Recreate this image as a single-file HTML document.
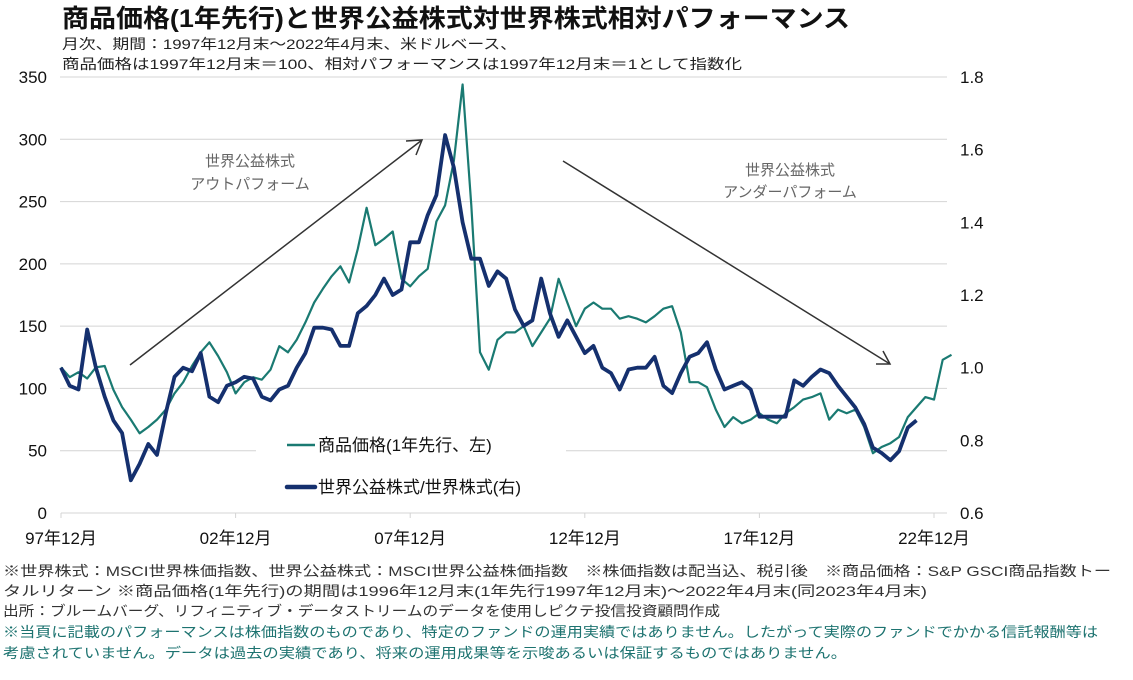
<!DOCTYPE html>
<html><head><meta charset="utf-8">
<style>
html,body{margin:0;padding:0;background:#fff;}
svg{display:block;font-family:"Liberation Sans","Noto Sans CJK JP",sans-serif;}
</style></head>
<body>
<svg id="chart" width="1133" height="680" viewBox="0 0 1133 680" xmlns="http://www.w3.org/2000/svg">
<text x="62" y="27" font-size="25" font-weight="bold" fill="#111" textLength="788" lengthAdjust="spacingAndGlyphs">商品価格(1年先行)と世界公益株式対世界株式相対パフォーマンス</text>
<text x="62" y="49" font-size="14" fill="#222" textLength="455" lengthAdjust="spacingAndGlyphs">月次、期間：1997年12月末～2022年4月末、米ドルベース、</text>
<text x="62" y="69" font-size="14" fill="#222" textLength="680" lengthAdjust="spacingAndGlyphs">商品価格は1997年12月末＝100、相対パフォーマンスは1997年12月末＝1として指数化</text>
<g id="grid"></g>
<g id="axes"></g>
<g id="annot">
<line x1="130" y1="365" x2="422" y2="140" stroke="#333" stroke-width="1.5"/>
<polyline points="406,141 422,140 416,155" fill="none" stroke="#333" stroke-width="1.5"/>
<line x1="563" y1="161" x2="890" y2="364" stroke="#333" stroke-width="1.5"/>
<polyline points="876,364 890,364 883,351" fill="none" stroke="#333" stroke-width="1.5"/>
<text x="250" y="166" font-size="15" fill="#666" text-anchor="middle">世界公益株式</text>
<text x="250" y="189" font-size="15" fill="#666" text-anchor="middle">アウトパフォーム</text>
<text x="790" y="175" font-size="15" fill="#666" text-anchor="middle">世界公益株式</text>
<text x="790" y="197" font-size="15" fill="#666" text-anchor="middle">アンダーパフォーム</text>
</g>
<g id="series"></g>
<g id="legend">
<rect x="256" y="425" width="310" height="80" fill="#fff"/>
<line x1="287" y1="445" x2="315" y2="445" stroke="#1a7a72" stroke-width="2.5"/>
<text x="318" y="451" font-size="17" fill="#111">商品価格(1年先行、左)</text>
<line x1="287" y1="487" x2="315" y2="487" stroke="#15306e" stroke-width="4.5" stroke-linecap="round"/>
<text x="318" y="493" font-size="17" fill="#111">世界公益株式/世界株式(右)</text>
</g>
<g font-size="14">
<text x="3" y="576" fill="#333" textLength="1108" lengthAdjust="spacingAndGlyphs">※世界株式：MSCI世界株価指数、世界公益株式：MSCI世界公益株価指数　※株価指数は配当込、税引後　※商品価格：S&amp;P GSCI商品指数トー</text>
<text x="3" y="596" fill="#333" textLength="924" lengthAdjust="spacingAndGlyphs">タルリターン ※商品価格(1年先行)の期間は1996年12月末(1年先行1997年12月末)～2022年4月末(同2023年4月末)</text>
<text x="3" y="616" fill="#333" textLength="717" lengthAdjust="spacingAndGlyphs">出所：ブルームバーグ、リフィニティブ・データストリームのデータを使用しピクテ投信投資顧問作成</text>
<text x="3" y="637" fill="#1d7370" textLength="1095" lengthAdjust="spacingAndGlyphs">※当頁に記載のパフォーマンスは株価指数のものであり、特定のファンドの運用実績ではありません。したがって実際のファンドでかかる信託報酬等は</text>
<text x="3" y="658" fill="#1d7370" textLength="844" lengthAdjust="spacingAndGlyphs">考慮されていません。データは過去の実績であり、将来の運用成果等を示唆あるいは保証するものではありません。</text>
</g>
</svg>
<script>
// months since 1997-12, step 3
const commodityValues = [117,109,113,108,117,118,99,85,75,64,69,75,83,96,105,118,129,137,126,113,96,105,109,107,115,134,129,139,153,169,180,190,198,185,212,245,215,220,226,188,182,190,196,234,247,283,344,247,129,115,139,145,145,150,134,145,156,188,169,150,164,169,164,164,156,158,156,153,158,164,166,145,105,105,101,83,69,77,72,75,80,75,72,80,85,91,93,96,75,83,80,83,69,48,53,56,61,77,85,93,91,123,127];
const utilityRelValues = [1.0,0.95,0.94,1.105,1.0,0.92,0.855,0.82,0.69,0.735,0.79,0.76,0.875,0.975,1.0,0.99,1.04,0.92,0.905,0.95,0.96,0.975,0.97,0.92,0.91,0.94,0.95,1.0,1.04,1.11,1.11,1.105,1.06,1.06,1.15,1.17,1.2,1.245,1.2,1.215,1.345,1.345,1.42,1.475,1.64,1.55,1.40,1.30,1.30,1.225,1.265,1.245,1.16,1.115,1.13,1.245,1.15,1.085,1.13,1.085,1.04,1.06,1.0,0.985,0.94,0.995,1.0,1.0,1.03,0.95,0.93,0.985,1.03,1.04,1.07,0.995,0.94,0.95,0.96,0.94,0.865,0.865,0.865,0.865,0.965,0.95,0.975,0.995,0.985,0.95,0.92,0.89,0.845,0.78,0.765,0.745,0.77,0.835,0.855];
const leftTicks = [0,50,100,150,200,250,300,350];
const rightTicks = ["0.6","0.8","1.0","1.2","1.4","1.6","1.8"];
const xTickLabels = ["97年12月","02年12月","07年12月","12年12月","17年12月","22年12月"];
const monthStep = 3;

const NS = "http://www.w3.org/2000/svg";
const X0 = 61, PXM = 873/300, Y0 = 513, YTOP = 77;
const xScale = m => X0 + m * PXM;
const yLeft = v => Y0 - v / 350 * (Y0 - YTOP);
const yRight = v => Y0 - (v - 0.6) / 1.2 * (Y0 - YTOP);
function mk(tag, attrs, parent) {
  const e = document.createElementNS(NS, tag);
  for (const k in attrs) e.setAttribute(k, attrs[k]);
  parent.appendChild(e);
  return e;
}
const grid = document.getElementById('grid');
const axes = document.getElementById('axes');
leftTicks.forEach(v => {
  const y = yLeft(v);
  if (v > 0) {
    const g = mk('line', {x1: 60, x2: 947, y1: y, y2: y, stroke: '#d4d4d4', 'stroke-width': 1}, grid);
    
    
  }
  const t = mk('text', {x: 47, y: y + 6, 'font-size': 17, fill: '#111', 'text-anchor': 'end'}, axes);
  t.textContent = v;
  
  
});
rightTicks.forEach(s => {
  const y = yRight(parseFloat(s));
  const t = mk('text', {x: 960, y: y + 6, 'font-size': 17, fill: '#111'}, axes);
  t.textContent = s;
  
  
});
const ax = mk('line', {x1: 61, x2: 947, y1: Y0, y2: Y0, stroke: '#d4d4d4', 'stroke-width': 1}, axes);


xTickLabels.forEach((s, i) => {
  const x = xScale(i * 60);
  const tk = mk('line', {x1: x, x2: x, y1: Y0, y2: Y0 + 5, stroke: '#d4d4d4'}, axes);
  
  
  const t = mk('text', {x: x, y: 544, 'font-size': 17, fill: '#111', 'text-anchor': 'middle'}, axes);
  t.textContent = s;
  
  
});
const series = document.getElementById('series');
const cp = commodityValues.map((v, i) => xScale(i * monthStep).toFixed(1) + ',' + yLeft(v).toFixed(1)).join(' ');
const cl = mk('polyline', {points: cp, fill: 'none', stroke: '#1a7a72', 'stroke-width': 2.2, 'stroke-linejoin': 'round'}, series);


const up = utilityRelValues.map((v, i) => xScale(i * monthStep).toFixed(1) + ',' + yRight(v).toFixed(1)).join(' ');
const ul = mk('polyline', {points: up, fill: 'none', stroke: '#15306e', 'stroke-width': 3.8, 'stroke-linejoin': 'round'}, series);


</script>
</body></html>
